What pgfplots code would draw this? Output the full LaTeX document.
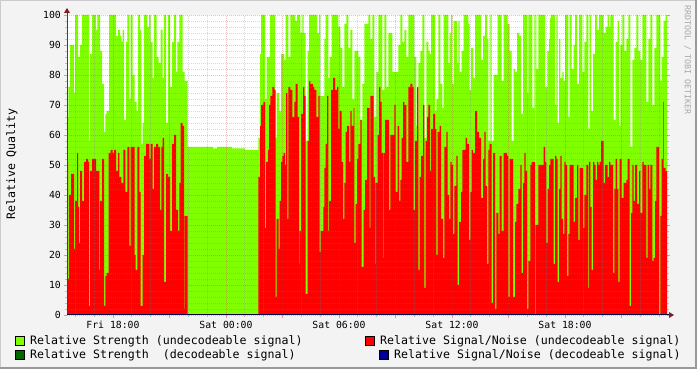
\documentclass[border=0pt]{standalone}
\usepackage{pgfplots}
\pgfplotsset{compat=1.18}
\usepackage{fontspec}
\setmainfont{DejaVu Sans Mono}
\definecolor{bgcol}{HTML}{F3F3F3}
\definecolor{shadea}{HTML}{CBCBCB}
\definecolor{shadeb}{HTML}{999999}
\definecolor{lgreen}{HTML}{7FFF00}
\definecolor{sred}{HTML}{FF0000}
\definecolor{dgreen}{HTML}{006600}
\definecolor{dblue}{HTML}{000099}
\definecolor{axiscol}{HTML}{404040}
\definecolor{arrowcol}{HTML}{7F1F1F}
\definecolor{mgrid}{HTML}{C03030}
\definecolor{wmark}{HTML}{A8A8A8}
\begin{document}
\begin{tikzpicture}
\useasboundingbox (0,0) rectangle (697bp,369bp);
\fill[bgcol] (0,0) rectangle (697bp,369bp);
\fill[shadea] (0,368bp) rectangle (697bp,369bp);
\fill[shadea] (0,0) rectangle (1bp,369bp);
\fill[shadeb] (0,0) rectangle (697bp,2bp);
\fill[shadeb] (695bp,0) rectangle (697bp,369bp);
\begin{axis}[name=ax, at={(67bp,54bp)}, anchor=south west, scale only axis,
  width=600bp, height=300bp,
  xmin=0, xmax=600, ymin=0, ymax=100,
  axis on top,
  axis background/.style={fill=white},
  axis line style={draw=none},
  xtick={46,102.5,159,215.5,272,328.5,385,441.5,498,554.5},
  xticklabels={Fri 18:00,,Sat 00:00,,Sat 06:00,,Sat 12:00,,Sat 18:00,},
  minor xtick={8.33,27.17,64.83,83.67,121.33,140.17,177.83,196.67,234.33,253.17,290.83,309.67,347.33,366.17,403.83,422.67,460.33,479.17,516.83,535.67,573.33,592.17},
  ytick={0,10,...,100},
  minor ytick={2,4,6,8,12,14,16,18,22,24,26,28,32,34,36,38,42,44,46,48,52,54,56,58,62,64,66,68,72,74,76,78,82,84,86,88,92,94,96,98},
  grid=both,
  major grid style={draw=mgrid, opacity=0.3, line width=0.8bp, dash pattern=on 1bp off 1bp},
  minor grid style={draw=gray, opacity=0.3, line width=0.8bp, dash pattern=on 1bp off 1bp},
  tick align=outside,
  xtick pos=left, ytick pos=both,
  major tick length=3bp, minor tick length=2bp,
  major tick style={draw=mgrid, opacity=0.45, line width=0.8bp},
  minor tick style={draw=gray, opacity=0.45, line width=0.8bp},
  ticklabel style={font=\fontsize{9.8bp}{10bp}\selectfont, text=black},
  /pgf/number format/assume math mode=true,
  yticklabel style={anchor=east, inner sep=0pt, xshift=-3bp},
  xticklabel style={anchor=base, inner sep=0pt, yshift=-11bp},
]
\addplot[const plot mark left, fill=lgreen, draw=none] table {
0 66
1.3 76
3 90
7 74
8 100
11 86
13 90
15 100
22 58
23 87
25 100
29 95
30.3 100
33 88
35 77
37 61
38.3 67
39.7 68
42 100
49 93
51 95
53 93
54.3 91
55.7 95
57 65
59 91
60.3 100
62.3 72
63.7 100
65.7 80
67.7 71
69.7 68
71 100
73 95
74.3 57
75.7 64
77 100
80.3 96
82 100
83.7 91
85.7 79
87 100
89.7 86
91.7 84
93.7 95
95.7 79
97 100
99 64
101 100
103 76
105 91
107 100
109 81
110.3 91
112.3 100
115.7 81
117.7 78
120.7 56
146 55.5
150 56
165 55.5
178 55
191.3 59
193 87
194 100
198 72
199.7 86
203 100
208 59
209.7 74
212 68
214 87
217.3 85
218.7 100
221.3 86
223.3 100
228 98
230 100
233.3 94
235.3 100
236.7 94
238.7 58
240.7 88
242 100
250 94
252 100
253.3 73
257.3 92
258.7 100
261.3 79
262.7 86
264.7 100
271.3 96
273.3 89
275.3 76
277.3 97
279.3 100
281.3 89
283.3 95
285.3 72
287.3 88
291.3 86
293.3 65
295.3 77
297.3 97
301.3 100
303.3 92
305.3 100
307.3 66
309.3 81
311.3 100
315.3 75
317.3 100
319.3 76
321.3 94
325.3 81
331.3 90
333.3 100
335.3 91
337.3 95
339.3 86
341.3 100
347.3 86
349.3 63
351.3 84
353.3 88
355.3 100
357.3 59
359.3 91
361.3 88
362.7 87
364 100
368 68
369.3 72
371.3 100
373.3 77
375.3 69
376.7 100
381.3 84
382.7 94
384 100
385.3 77
386.7 98
390 84
391.3 98
392.7 81
394.7 88
396.7 100
401.3 97
402.7 75
404 89
406 79
408 100
414 85
416 93
418 100
420 92
421.3 58
423.3 100
424.7 58
426.7 80
430.7 100
434.7 78
436.7 100
440.7 97
442.7 88
444.7 58
446.7 82
448 81
450 94
452 93
454 67
456 100
460 74
461.3 100
465.3 69
467.3 100
468 0
468.7 100
469.3 82
471.3 100
478 76
480.3 88
482 92
483 99
484 100
488 70
489.3 100
490.7 64
492 92
493.3 79
495.3 81
496.7 78
498 100
501.3 66
502.7 100
504.7 82
506.7 90
508 100
510 77
512 100
515.3 81
517.3 91
519.3 100
521.3 62
522.7 100
524 68
526 87
528 100
530 95
532 100
536.7 94
538.7 96
540.7 100
542 96
543.3 100
546.7 65
548.7 91
550.7 98
552 63
553.3 90
555.3 100
557.3 88
559.3 92
561.3 100
563.3 56
565.3 85
567.3 89
569.3 100
571.3 88
573.3 85
575.3 100
579.3 71
581.3 92
583.3 100
585.3 70
587.3 89
589.3 100
593.3 78
594.7 86
596.7 98
598.7 100
600 100
} \closedcycle;
\addplot[const plot mark left, fill=sred, draw=none] table {
0 51
1 12
2 40
4 47
7 22
8 38
10 54
11 36
12 24
13 48
15 38
17 51
19 52
21 51
22 3
23 48
25 52
29 48
32.3 15
33 38
35 52
37 3
38.3 13
39.7 14
41.7 54
43.7 55
45.7 54
47 55
49 48
51 54
52.3 46
54.3 44
56.3 55
58.3 41
60.3 56
62.3 23
63.7 56
67.7 20
68.7 15
70.3 56
72.3 41
73.7 3
75.7 20
77 53
79 57
82.3 52
83.7 57
85.7 42
87 56
89 57
91 56
93 35
94.3 56
95.7 59
97 11
99 47
101 46
103 28
105 57
107 60
109 35
111 28
112.3 44
113.7 64
115.7 63
117 2
117.7 33
120.7 0
191.3 46
193 63
194 70
196.3 71
198 29
199 51
201 55
202 70
203.3 73
205.3 76
207.3 75
208.7 6
209.7 32
211.7 22
212.7 38
214 51
215.3 53
216.7 54
218 50
219 74
220.3 32
221.3 76
223.3 75
225.3 66
227 19
227.3 71
228.7 77
230.7 66
232 17
232.7 28
234 67
236 76
237.3 73
238.7 7
240.7 58
242 78
243.3 77
246 76
247.3 75
249.3 66
251.3 73
252.7 21
253.7 28
256.3 36
257.3 49
258.7 57
260 73
261.3 28
262 38
264 75
266 79
268 75
270 76
271.3 62
272.7 68
274.7 51
276 32
277.3 44
278.7 61
280 63
282 51
283.3 68
284.7 63
286.7 69
287.3 24
288.7 37
290 52
291.3 57
293.3 65
294.7 16
296.7 35
298 45
300 69
302.7 29
303.3 73
306.7 46
308 17
308.7 44
310.7 60
312 76
313.3 71
314.7 54
316 19
316.7 54
318 65
322 35
323.3 60
327.3 70
328.7 41
330.7 63
332 38
333.3 45
334.7 59
336 71
337.3 70
339.3 51
341.3 76
343.3 77
345.3 76
346.7 35
348 58
350 76
351.3 15
352.7 46
354 53
356 70
357.3 9
358.7 58
360 66
361.3 70
363 48
364 62
366 67
368 62
369.3 20
370.7 61
372.7 63
374 32
376 19
377.3 56
379.3 61
380.7 40
382 32
383.3 51
384.7 50
386 27
387.3 43
389.3 53
390.7 10
392 31
394 41
395.3 55
398.7 59
400 57
402 25
403.3 41
404.7 55
406 54
408 68
410 61
412 59
414 39
416 52
417.3 61
418.7 43
420 17
421.3 55
422.7 57
424.7 4
426 54
428 2
429.3 34
431.3 27
432.7 53
434.7 28
436.7 54
440 53
441.3 6
442.7 52
446 6
448 31
449.3 37
451.3 42
453.3 50
454.7 14
456 44
457.3 54
458.7 48
460 2
461.3 18
463.3 50
464.7 51
468 0
468.7 30
471.3 50
476.7 56
478 51
479.3 24
480.7 42
482 50
483.3 52
486.7 17
488 53
489.3 52
490.7 11
492 42
493.3 53
494.7 32
496 27
497.3 51
498.7 50
500 13
501.3 27
502.7 50
506.7 31
508 39
510 50
511.3 25
512.7 49
516 29
517.3 40
519.3 50
521.3 9
522 51
523.3 36
524.7 15
526 51
527.3 50
528.7 45
530 51
531.3 50
532.7 51
534 58
536.7 44
538 50
540.7 46
542 51
543.3 50
546 14
547.3 42
548.7 52
550 42
551.3 11
552.7 52
554.7 39
556.7 44
559.3 45
560.7 52
562.7 3
564 34
565.3 50
566.7 38
568 50
570 37
572 48
573.3 34
575.3 51
576.7 50
579.3 19
580.7 50
582 42
583.3 50
585.3 18
586.7 19
588 38
589.3 56
592 0
593.3 33
594.7 52
596 71
596.7 49
598.7 48
600 48
} \closedcycle;
\addplot[draw=dgreen, line width=1bp] coordinates {(0,0) (600,0)};
\addplot[draw=dblue, line width=1bp] coordinates {(0,0) (600,0)};
\end{axis}
\draw[axiscol, line width=1bp] (67bp,54bp) -- (67bp,357bp);
\fill[arrowcol] (64bp,356bp) -- (70bp,356bp) -- (67bp,361bp) -- cycle;
\draw[dblue!50!black, line width=1bp] (67bp,54bp) -- (670bp,54bp);
\fill[arrowcol] (669bp,51bp) -- (669bp,57bp) -- (674bp,54bp) -- cycle;
\node[rotate=90, font=\fontsize{11.6bp}{12bp}\selectfont, inner sep=0pt] at (12bp,205bp) {Relative Quality};
\begin{scope}[font=\fontsize{11.6bp}{12bp}\selectfont]
\filldraw[fill=lgreen, draw=black, line width=1bp] (15.5bp,23.5bp) rectangle (24.5bp,32.5bp);
\node[anchor=west, inner sep=0pt] at (30bp,28bp) {Relative Strength (undecodeable signal)};
\filldraw[fill=dgreen, draw=black, line width=1bp] (15.5bp,9.5bp) rectangle (24.5bp,18.5bp);
\node[anchor=west, inner sep=0pt] at (30bp,14bp) {Relative Strength\ \ (decodeable signal)};
\filldraw[fill=sred, draw=black, line width=1bp] (365.5bp,23.5bp) rectangle (374.5bp,32.5bp);
\node[anchor=west, inner sep=0pt] at (380bp,28bp) {Relative Signal/Noise (undecodeable signal)};
\filldraw[fill=dblue, draw=black, line width=1bp] (379.5bp,9.5bp) rectangle (388.5bp,18.5bp);
\node[anchor=west, inner sep=0pt] at (394bp,14bp) {Relative Signal/Noise (decodeable signal)};
\end{scope}
\node[rotate=-90, text=wmark, font=\fontsize{8.3bp}{9bp}\selectfont, inner sep=0pt] at (687.5bp,309bp) {RRDTOOL / TOBI OETIKER};
\end{tikzpicture}
\end{document}
